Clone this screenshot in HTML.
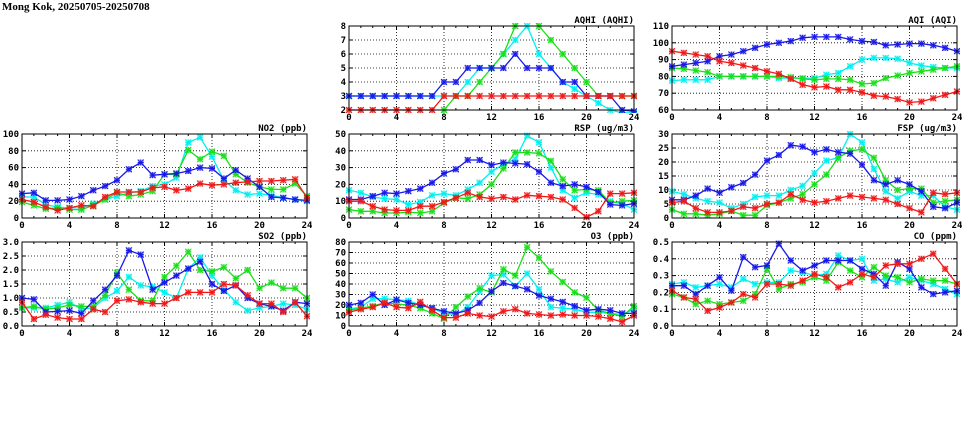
<!DOCTYPE html>
<html><head><meta charset="utf-8">
<style>
html,body{margin:0;padding:0;background:#fff;}
svg{display:block;}
text{font-family:"DejaVu Sans Mono","Liberation Mono",monospace;font-size:9px;font-weight:bold;fill:#000;}
.tt{font-family:"Liberation Serif","DejaVu Serif",serif;font-size:11px;}
</style></head><body>
<svg id="s" width="975" height="447" viewBox="0 0 975 447" xmlns="http://www.w3.org/2000/svg">
<text class="tt" x="2" y="10">Mong Kok, 20250705-20250708</text>

<g id="p1" transform="translate(349,26)">
<text x="285" y="-3" text-anchor="end">AQHI (AQHI)</text>
<g text-anchor="end"><text x="-3" y="87">2</text><text x="-3" y="73">3</text><text x="-3" y="59">4</text><text x="-3" y="45">5</text><text x="-3" y="31">6</text><text x="-3" y="17">7</text><text x="-3" y="3">8</text></g>
<g text-anchor="middle"><text x="0" y="94">0</text><text x="47.5" y="94">4</text><text x="95" y="94">8</text><text x="142.5" y="94">12</text><text x="190" y="94">16</text><text x="237.5" y="94">20</text><text x="285" y="94">24</text></g>
</g>
<g id="p2" transform="translate(672,26)">
<text x="285" y="-3" text-anchor="end">AQI (AQI)</text>
<g text-anchor="end"><text x="-3" y="87">60</text><text x="-3" y="70.2">70</text><text x="-3" y="53.4">80</text><text x="-3" y="36.6">90</text><text x="-3" y="19.8">100</text><text x="-3" y="3">110</text></g>
<g text-anchor="middle"><text x="0" y="94">0</text><text x="47.5" y="94">4</text><text x="95" y="94">8</text><text x="142.5" y="94">12</text><text x="190" y="94">16</text><text x="237.5" y="94">20</text><text x="285" y="94">24</text></g>
</g>
<g id="p3" transform="translate(22,134)">
<text x="285" y="-3" text-anchor="end">NO2 (ppb)</text>
<g text-anchor="end"><text x="-3" y="87">0</text><text x="-3" y="70.2">20</text><text x="-3" y="53.4">40</text><text x="-3" y="36.6">60</text><text x="-3" y="19.8">80</text><text x="-3" y="3">100</text></g>
<g text-anchor="middle"><text x="0" y="94">0</text><text x="47.5" y="94">4</text><text x="95" y="94">8</text><text x="142.5" y="94">12</text><text x="190" y="94">16</text><text x="237.5" y="94">20</text><text x="285" y="94">24</text></g>
</g>
<g id="p4" transform="translate(349,134)">
<text x="285" y="-3" text-anchor="end">RSP (ug/m3)</text>
<g text-anchor="end"><text x="-3" y="87">0</text><text x="-3" y="70.2">10</text><text x="-3" y="53.4">20</text><text x="-3" y="36.6">30</text><text x="-3" y="19.8">40</text><text x="-3" y="3">50</text></g>
<g text-anchor="middle"><text x="0" y="94">0</text><text x="47.5" y="94">4</text><text x="95" y="94">8</text><text x="142.5" y="94">12</text><text x="190" y="94">16</text><text x="237.5" y="94">20</text><text x="285" y="94">24</text></g>
</g>
<g id="p5" transform="translate(672,134)">
<text x="285" y="-3" text-anchor="end">FSP (ug/m3)</text>
<g text-anchor="end"><text x="-3" y="87">0</text><text x="-3" y="73">5</text><text x="-3" y="59">10</text><text x="-3" y="45">15</text><text x="-3" y="31">20</text><text x="-3" y="17">25</text><text x="-3" y="3">30</text></g>
<g text-anchor="middle"><text x="0" y="94">0</text><text x="47.5" y="94">4</text><text x="95" y="94">8</text><text x="142.5" y="94">12</text><text x="190" y="94">16</text><text x="237.5" y="94">20</text><text x="285" y="94">24</text></g>
</g>
<g id="p6" transform="translate(22,242)">
<text x="285" y="-3" text-anchor="end">SO2 (ppb)</text>
<g text-anchor="end"><text x="-3" y="87">0.0</text><text x="-3" y="73">0.5</text><text x="-3" y="59">1.0</text><text x="-3" y="45">1.5</text><text x="-3" y="31">2.0</text><text x="-3" y="17">2.5</text><text x="-3" y="3">3.0</text></g>
<g text-anchor="middle"><text x="0" y="94">0</text><text x="47.5" y="94">4</text><text x="95" y="94">8</text><text x="142.5" y="94">12</text><text x="190" y="94">16</text><text x="237.5" y="94">20</text><text x="285" y="94">24</text></g>
</g>
<g id="p7" transform="translate(349,242)">
<text x="285" y="-3" text-anchor="end">O3 (ppb)</text>
<g text-anchor="end"><text x="-3" y="87">0</text><text x="-3" y="76.5">10</text><text x="-3" y="66">20</text><text x="-3" y="55.5">30</text><text x="-3" y="45">40</text><text x="-3" y="34.5">50</text><text x="-3" y="24">60</text><text x="-3" y="13.5">70</text><text x="-3" y="3">80</text></g>
<g text-anchor="middle"><text x="0" y="94">0</text><text x="47.5" y="94">4</text><text x="95" y="94">8</text><text x="142.5" y="94">12</text><text x="190" y="94">16</text><text x="237.5" y="94">20</text><text x="285" y="94">24</text></g>
</g>
<g id="p8" transform="translate(672,242)">
<text x="285" y="-3" text-anchor="end">CO (ppm)</text>
<g text-anchor="end"><text x="-3" y="87">0.0</text><text x="-3" y="70.2">0.1</text><text x="-3" y="53.4">0.2</text><text x="-3" y="36.6">0.3</text><text x="-3" y="19.8">0.4</text><text x="-3" y="3">0.5</text></g>
<g text-anchor="middle"><text x="0" y="94">0</text><text x="47.5" y="94">4</text><text x="95" y="94">8</text><text x="142.5" y="94">12</text><text x="190" y="94">16</text><text x="237.5" y="94">20</text><text x="285" y="94">24</text></g>
</g>
</svg>
<script>
var W=285,H=84,NS="http://www.w3.org/2000/svg";
var C={b:"#1818e8",c:"#00f0f0",g:"#18e018",r:"#f01818"};
var P={
p1:[2,8,6,{b:[3,3,3,3,3,3,3,3,4,4,5,5,5,5,6,5,5,5,4,4,3,3,3,2,1.9],
 c:[3,3,3,3,3,3,3,3,3,3,4,5,5,6,7,8,6,5,4,3.5,3,2.5,2,1.8,1.8],
 g:[1,1,1,1,1,1,1,1,2,3,3,4,5,6,8,9,8,7,6,5,4,3,3,3,3],
 r:[2,2,2,2,2,2,2,2,3,3,3,3,3,3,3,3,3,3,3,3,3,3,3,3,3]}],
p2:[60,110,5,{b:[86,87,88,89,92,93,95,97,99,100,101,103,103.5,103.5,103.5,102,101,100.5,98.5,99,99.5,99.5,98.5,97,95],
 c:[77.5,78,78,78,80,80,80,80,80,79,79,79,79,81,82,86,90,91,91,90.5,88,86.5,85.5,85,85],
 g:[85,84.5,83.5,82.5,80,80,80,80,80,80,79.5,78.5,78,78.5,78.5,78,75.5,76,79,80.5,82,83,84,85,86],
 r:[95,94,93,92,89,88,86.5,85,83,81.5,78.5,75,73.5,74,72,72,70.5,68.5,68,66.5,64.5,65,67,69,71]}],
p3:[0,100,5,{b:[29,30,21,21,22,26,33,38,45,58,66,51,52,53,56,60,59,47,57,47,37,25,24,22,21],
 c:[25,25,16,13,12,12,17,22,26,30,32,38,40,48,90,96,73,45,33,28,29,27,24,22,20],
 g:[19,15,11,12,10,10,15,22,30,26,28,32,52,52,81,70,79,74,52,42,37,34,34,41,26],
 r:[22,19,13,9,12,15,14,25,31,31,31,36,37,33,35,41,39,40,42,43,44,44,45,46,24]}],
p4:[0,50,5,{b:[11,11,13,15,14.5,16,17.5,21,26.5,29,34.5,34.5,31.5,33,32.5,32,27.5,21,19,20,18.5,15.5,8,7.5,8.5],
 c:[16.5,15,12.5,11.5,11,8,9.5,13.5,14.5,13.5,17,21,27.5,32,35,49,45,30,16.5,12,15,14,10,8.5,5],
 g:[5,4,4,3,3,3.5,3,4,9,12,11.5,14,20,29.5,39,39,38.5,34,23,16.5,17,16.5,9,10,10.5],
 r:[10,10,7,5,4.5,4.5,7,7,9.5,12,15,12.5,11.5,12.5,11,13.5,13,12.5,11,6,0.5,4,14.5,14.5,15]}],
p5:[0,30,6,{b:[6.5,6.5,8,10.5,9,11,12.5,15.5,20.5,22.5,26,25.5,23.5,24.5,23.5,23,19,13.5,12,13.5,12,9.5,4,3.5,5.5],
 c:[9.5,8.5,7,6,5.5,3.5,5,7.5,8,8,10,11.5,16,20.5,21.5,30,27,17.5,9.5,7,9.5,8,8,4,3],
 g:[3,1.5,1.5,1,1.5,2.5,1,1,4.5,5.5,7,8.5,12,15.5,21.5,24,24.5,21.5,13.5,10,10.5,10.5,5.5,6,6.5],
 r:[5.5,6,3.5,2,2,2.5,4,3.5,5,5.5,8.5,6.5,5.5,6,7,8,7.5,7,6.5,5,3.5,2,9,8.5,9]}],
p6:[0,3,6,{b:[1.0,0.95,0.5,0.52,0.55,0.45,0.9,1.3,1.8,2.7,2.55,1.3,1.55,1.8,2.05,2.3,1.5,1.25,1.45,1.0,0.8,0.7,0.55,0.85,0.8],
 c:[0.65,0.65,0.65,0.75,0.85,0.6,0.65,1.0,1.25,1.75,1.45,1.4,1.2,1.0,2.05,2.45,1.8,1.3,0.85,0.55,0.65,0.7,0.8,0.75,0.6],
 g:[0.65,0.7,0.6,0.65,0.75,0.7,0.7,1.1,1.9,1.3,0.9,0.9,1.75,2.15,2.65,2.0,1.95,2.1,1.7,2.0,1.35,1.55,1.35,1.35,1.0],
 r:[0.85,0.25,0.4,0.3,0.25,0.25,0.6,0.5,0.9,0.95,0.85,0.8,0.8,1.0,1.2,1.2,1.2,1.5,1.45,1.1,0.8,0.8,0.5,0.85,0.35]}],
p7:[0,80,8,{b:[20,22,30,20,25,22,20,17,14,12,15,22,33,41,38,35,29,26,23,19,15,16,15,12,12],
 c:[16,18,26,26,25,24,20,17,12,11,18,33,48,49,38,50,35,18,17,16,13,13,12,11,16],
 g:[15,17,19,22,21,20,17,12,7,18,28,36,32,54,48,75,65,52,42,32,27,15,12,9,19],
 r:[13,16,18,22,18,17,23,15,8,8,12,10,9,14,16,12,11,10,11,10,10,9,7,4,10]}],
p8:[0,0.5,5,{b:[.24,.24,.19,.24,.29,.21,.41,.35,.36,.49,.39,.33,.36,.39,.39,.39,.34,.31,.24,.38,.34,.23,.19,.20,.21],
 c:[.25,.26,.23,.24,.25,.23,.28,.25,.26,.26,.33,.32,.30,.31,.42,.39,.40,.27,.28,.26,.29,.27,.25,.22,.19],
 g:[.19,.17,.13,.15,.13,.14,.15,.19,.34,.22,.25,.26,.29,.27,.38,.33,.29,.35,.30,.29,.26,.28,.27,.27,.25],
 r:[.21,.17,.16,.09,.11,.14,.19,.17,.25,.25,.24,.27,.31,.29,.23,.26,.31,.29,.36,.37,.37,.40,.43,.34,.25]}]
};
function el(t,a,p){var e=document.createElementNS(NS,t);for(var k in a)e.setAttribute(k,a[k]);p.appendChild(e);return e;}
var idx=0;
for(var id in P){
 var g=document.getElementById(id),d=P[id],lo=d[0],hi=d[1],n=d[2],S=d[3];
 var first=g.firstChild;
 var cp=el("clipPath",{id:"c"+id},g);el("rect",{x:-3,y:-3,width:W+6,height:H+6},cp);
 var gr=el("g",{stroke:"#000","stroke-width":0.8,"stroke-dasharray":"1,2"},g);
 for(var i=1;i<6;i++)el("line",{x1:i*W/6,y1:0,x2:i*W/6,y2:H},gr);
 for(var j=1;j<n;j++)el("line",{x1:0,y1:j*H/n,x2:W,y2:j*H/n},gr);
 var tk=el("g",{stroke:"#000","stroke-width":1},g);
 for(var i=0;i<=24;i++){var x=i*W/24,l=(i%4==0)?4:2;el("line",{x1:x,y1:H,x2:x,y2:H-l},tk);el("line",{x1:x,y1:0,x2:x,y2:l},tk);}
 for(var j=0;j<=n;j++){var y=j*H/n;el("line",{x1:0,y1:y,x2:4,y2:y},tk);el("line",{x1:W,y1:y,x2:W-4,y2:y},tk);}
 var sg=el("g",{"clip-path":"url(#c"+id+")"},g);
 ["c","g","b","r"].forEach(function(k){
  var a=S[k],pts=[];
  for(var i=0;i<a.length;i++)pts.push([i*W/24,H-(a[i]-lo)/(hi-lo)*H]);
  el("polyline",{points:pts.map(function(p){return p[0].toFixed(1)+","+p[1].toFixed(1)}).join(" "),fill:"none",stroke:C[k],"stroke-width":1.3},sg);
  pts.forEach(function(p){
   el("rect",{x:p[0]-3,y:p[1]-3,width:6,height:6,fill:C[k],"fill-opacity":0.35},sg);
   el("path",{d:"M"+(p[0]-3)+","+(p[1]-3)+"l6,6m0,-6l-6,6M"+(p[0]-3)+","+p[1]+"h6M"+p[0]+","+(p[1]-3)+"v6",stroke:C[k],"stroke-width":1},sg);
  });
 });
 el("rect",{x:0,y:0,width:W,height:H,fill:"none",stroke:"#000","stroke-width":1},g);
}
</script>
</body></html>
